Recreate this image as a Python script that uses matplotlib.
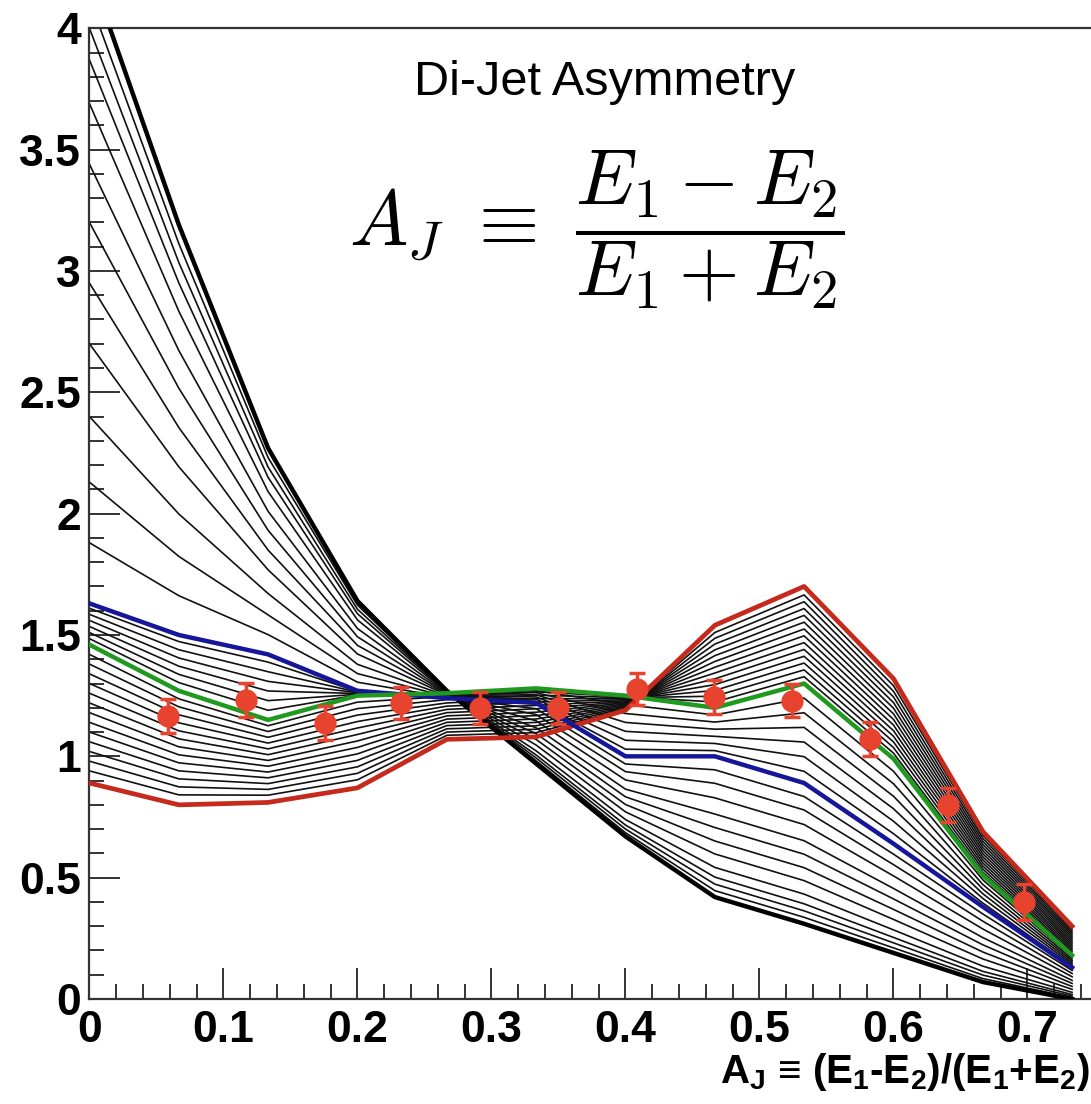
import numpy as np
import matplotlib
matplotlib.use("Agg")
import matplotlib.pyplot as plt
from matplotlib.ticker import MultipleLocator

# bin edges of the A_J templates
aj_edges = [0.0, 0.0667, 0.1333, 0.2, 0.2667, 0.3333, 0.4, 0.4667, 0.5333, 0.6, 0.6667, 0.7333]

# highlighted template curves
black_curve = [4.24, 3.19, 2.27, 1.64, 1.27, 0.97, 0.67, 0.42, 0.31, 0.19, 0.07, 0.00]
blue_curve = [1.63, 1.50, 1.42, 1.27, 1.24, 1.22, 1.00, 1.00, 0.89, 0.64, 0.38, 0.13]
green_curve = [1.46, 1.27, 1.15, 1.25, 1.26, 1.28, 1.25, 1.20, 1.30, 0.99, 0.51, 0.18]
red_curve = [0.89, 0.80, 0.81, 0.87, 1.07, 1.08, 1.19, 1.54, 1.70, 1.32, 0.69, 0.30]

# starting values (at A_J = 0) of the thin scan curves in each band
upper_starts = [4.12, 4.00, 3.87, 3.69, 3.44, 3.20, 2.95, 2.70, 2.40, 2.13, 1.88]
mid_starts = [1.61, 1.585, 1.56, 1.535, 1.51, 1.485]
lower_starts = [1.42, 1.38, 1.34, 1.30, 1.26, 1.22, 1.18, 1.14, 1.10, 1.06, 1.02, 0.98, 0.94]

# measured points
pt_x = [0.0586, 0.1168, 0.1757, 0.2325, 0.2914, 0.3496, 0.4086, 0.4660, 0.5243, 0.5825, 0.6407, 0.6974]
pt_y = [1.165, 1.233, 1.137, 1.220, 1.200, 1.200, 1.277, 1.245, 1.230, 1.070, 0.800, 0.400]
pt_err = [0.07, 0.07, 0.07, 0.065, 0.065, 0.065, 0.065, 0.07, 0.07, 0.07, 0.07, 0.075]

plt.rcParams["mathtext.fontset"] = "custom"
plt.rcParams["mathtext.bf"] = "Liberation Sans:bold"
plt.rcParams["mathtext.rm"] = "Liberation Sans:bold"
plt.rcParams["mathtext.it"] = "Liberation Sans:bold"

fig = plt.figure(figsize=(10.91, 11.04), dpi=100)
ax = fig.add_axes([0.0820, 0.0951, 0.9212, 0.8793])

x = np.array(aj_edges)


def band(hi, lo, starts):
    hi = np.array(hi)
    lo = np.array(lo)
    for s in starts:
        w = (s - lo[0]) / (hi[0] - lo[0])
        ax.plot(x, lo + w * (hi - lo), color="#111111", lw=1.2, zorder=2)


band(black_curve, blue_curve, upper_starts)
band(blue_curve, green_curve, mid_starts)
band(green_curve, red_curve, lower_starts)

ax.plot(x, black_curve, color="black", lw=3.2, zorder=3)
ax.plot(x, red_curve, color="#c62a1c", lw=3.4, zorder=4)
ax.plot(x, blue_curve, color="#16169a", lw=3.2, zorder=4)
ax.plot(x, green_curve, color="#1f9a1f", lw=3.2, zorder=4)

ax.errorbar(pt_x, pt_y, yerr=pt_err, fmt="o", color="#e8432e", ms=15,
            elinewidth=2.5, capsize=6, capthick=2.5, zorder=6)

ax.set_xlim(0, 0.75)
ax.set_ylim(0, 4)
ax.xaxis.set_major_locator(MultipleLocator(0.1))
ax.xaxis.set_minor_locator(MultipleLocator(0.02))
ax.yaxis.set_major_locator(MultipleLocator(0.5))
ax.yaxis.set_minor_locator(MultipleLocator(0.1))
ax.yaxis.set_major_formatter(plt.FuncFormatter(lambda v, p: f"{v:g}"))
ax.xaxis.set_major_formatter(plt.FuncFormatter(lambda v, p: f"{v:g}"))
ax.tick_params(which="both", direction="in", color="#333333", width=1.4,
               top=False, right=False)
ax.tick_params(which="major", length=22)
ax.tick_params(which="minor", length=11)
ax.tick_params(axis="y", pad=6)
ax.tick_params(axis="x", pad=8)
for lab in ax.get_xticklabels() + ax.get_yticklabels():
    lab.set_family("Liberation Sans")
    lab.set_fontweight("bold")
    lab.set_fontsize(32)
for side in ["left", "bottom", "top"]:
    ax.spines[side].set_linewidth(1.6)
    ax.spines[side].set_color("#333333")
ax.spines["right"].set_visible(False)

fig.text(0.5545, 0.914, "Di-Jet Asymmetry", family="Liberation Sans",
         fontsize=35, ha="center", va="baseline")
fig.text(0.7745, 0.792, r"$A_J\ \equiv\ \dfrac{E_1 - E_2}{E_1 + E_2}$",
         math_fontfamily="cm", fontsize=56, ha="right", va="center")
fig.text(0.999, 0.019, r"$\mathbf{A_J}$ ≡ ($\mathbf{E_1}$-$\mathbf{E_2}$)/($\mathbf{E_1}$+$\mathbf{E_2}$)",
         family="Liberation Sans", fontweight="bold", math_fontfamily="custom",
         fontsize=29, ha="right", va="baseline")

fig.savefig("out.png", dpi=100)
